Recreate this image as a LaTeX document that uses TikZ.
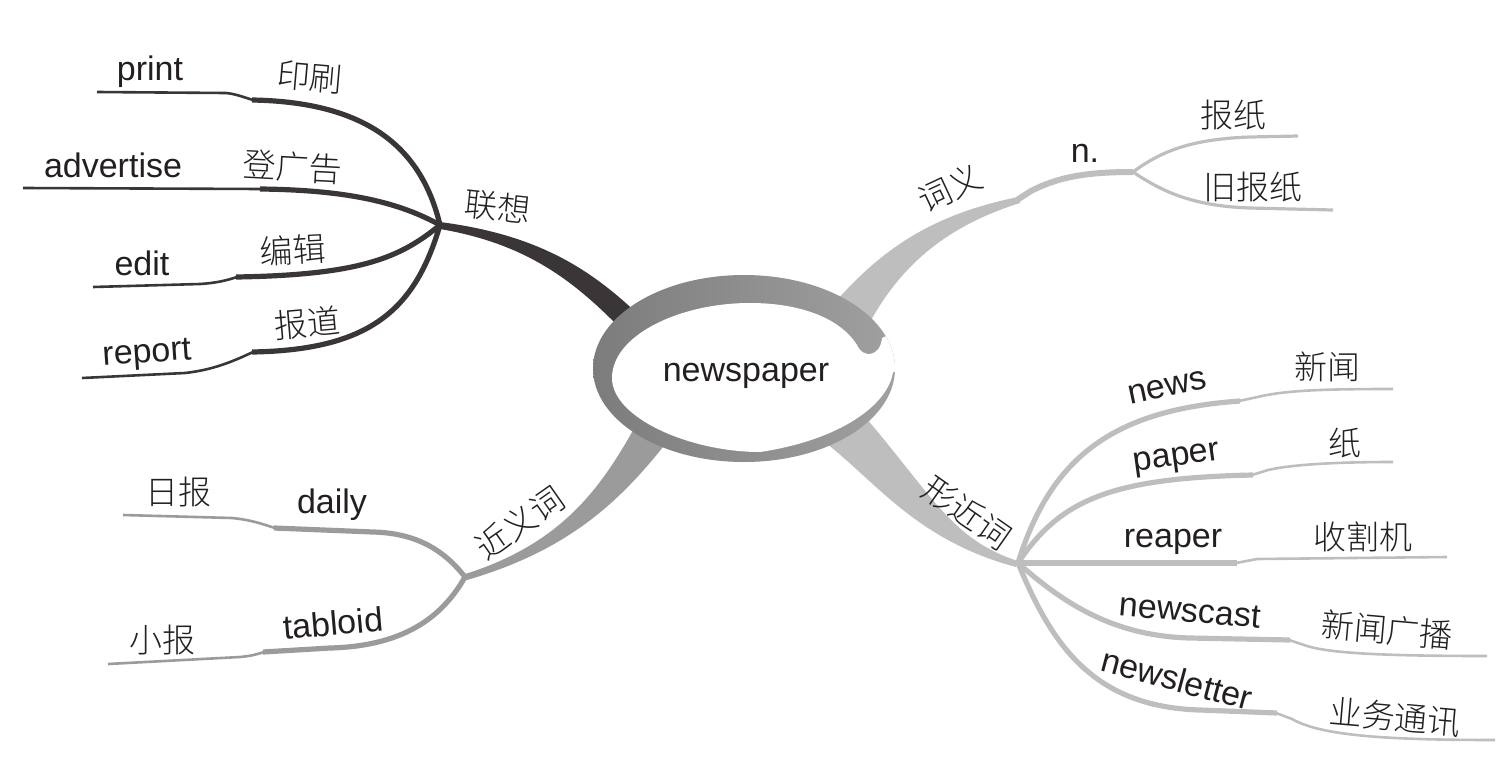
\documentclass[tikz,border=0pt]{standalone}
\usepackage{fontspec}
\setmainfont{Liberation Sans}
\newfontfamily\cjk{Noto Sans CJK SC}[UprightFont={* Light}]
\definecolor{dk}{RGB}{58,53,54}
\definecolor{lt}{RGB}{190,190,190}
\definecolor{md}{RGB}{155,155,155}
\definecolor{rg}{RGB}{124,124,124}
\definecolor{rgl}{RGB}{160,160,160}
\definecolor{txt}{RGB}{35,31,32}
\begin{document}
\begin{tikzpicture}[x=0.5pt,y=-0.5pt,
  en/.style={font=\fontsize{17}{20}\selectfont, text=txt, inner sep=0pt},
  zh/.style={font=\fontsize{16.5}{20}\selectfont\cjk, text=txt, inner sep=0pt},
  thk/.style={line width=2.6pt, line cap=butt, line join=round},
  thn/.style={line width=1.3pt, line cap=butt, line join=round},
  twig/.style={line width=1.6pt, line cap=butt, line join=round}]
\useasboundingbox (0,0) rectangle (1505,777);

% hubs and free ends
\coordinate (hubA) at (440,225);
\coordinate (hubB) at (1133,172);
\coordinate (hubC) at (1018,563);
\coordinate (hubD) at (465,577);
\coordinate (pE) at (97,92);
\coordinate (aE) at (23,188);
\coordinate (eE) at (93,287);
\coordinate (rE) at (82,378);
\coordinate (bzE) at (1298,136);
\coordinate (jbE) at (1333,210);
\coordinate (nwE) at (1393,389);
\coordinate (ppE) at (1393,462);
\coordinate (rpE) at (1447,557);
\coordinate (ncE) at (1487,656);
\coordinate (nlE) at (1495,740);
\coordinate (dE) at (123,515);
\coordinate (tE) at (108,664);

% trunks
\fill[dk] (642,318) .. controls (592,270) and (540,235) .. (440,222) -- (440,229) .. controls (528,244) and (575,282) .. (622,330) -- cycle;
\fill[lt] (830,308) .. controls (880,250) and (930,215) .. (1018,197) -- (1020,203) .. controls (950,225) and (903,262) .. (870,322) -- cycle;
\fill[lt] (822,440) .. controls (875,480) and (915,540) .. (1016,567) -- (1018,561) .. controls (952,540) and (932,495) .. (866,418) -- cycle;
\fill[md] (636,425) .. controls (600,490) and (560,545) .. (462,575) -- (467,580) .. controls (570,550) and (622,500) .. (670,438) -- cycle;

% 联想 leaves
\draw[dk,thk] (hubA) .. controls (422,150) and (370,102) .. (252,100);
\draw[dk,thn] (253,100) .. controls (243,97) and (236,94) .. (226,93) -- (pE);
\draw[dk,thk] (hubA) .. controls (400,203) and (350,190) .. (260,189);
\draw[dk,thn] (262,189) -- (aE);
\draw[dk,thk] (hubA) .. controls (400,258) and (360,275) .. (236,277);
\draw[dk,thn] (237,277) .. controls (225,281) and (215,283) .. (200,284) -- (eE);
\draw[dk,thk] (hubA) .. controls (415,310) and (370,350) .. (252,352);
\draw[dk,thn] (253,352) .. controls (232,362) and (212,370) .. (185,373) -- (rE);

% 词义 leaves
\draw[lt,line width=3pt] (1017,200) -- (1031,191) .. controls (1060,176) and (1090,172) .. (hubB);
\draw[lt,twig] (hubB) .. controls (1160,152) and (1190,139) .. (1250,137) -- (bzE);
\draw[lt,twig] (hubB) .. controls (1160,190) and (1190,206) .. (1250,208) -- (jbE);

% 形近词 leaves
\draw[lt,thk] (hubC) .. controls (1050,460) and (1110,410) .. (1240,401);
\draw[lt,thn] (1239,401) -- (1262,396) .. controls (1290,390) and (1330,389) .. (nwE);
\draw[lt,thk] (hubC) .. controls (1060,500) and (1110,478) .. (1253,475);
\draw[lt,thn] (1252,475) -- (1268,470) .. controls (1290,465) and (1330,462) .. (ppE);
\draw[lt,thk] (hubC) -- (1237,563);
\draw[lt,thn] (1236,563) -- (1257,559) -- (rpE);
\draw[lt,thk] (hubC) .. controls (1060,600) and (1110,636) .. (1190,638) -- (1290,640);
\draw[lt,thn] (1289,640) -- (1307,646) .. controls (1330,653) and (1380,656) .. (ncE);
\draw[lt,thk] (hubC) .. controls (1050,640) and (1090,707) .. (1200,710) -- (1277,713);
\draw[lt,thn] (1276,713) -- (1292,719) .. controls (1320,735) and (1380,740) .. (nlE);

% 近义词 leaves
\draw[md,thk] (hubD) .. controls (440,545) and (410,533) .. (373,532) -- (274,528);
\draw[md,thn] (275,528) .. controls (262,524) and (252,520) .. (232,518) -- (dE);
\draw[md,thk] (hubD) .. controls (445,612) and (410,646) .. (330,648) -- (263,652);
\draw[md,thn] (264,652) .. controls (255,655) and (250,656) .. (240,657) -- (tE);

% central ring
\begin{scope}
\path[left color=rg, right color=rgl] (744,368.5) ellipse [x radius=151, y radius=93.5];
\clip (744,368.5) ellipse [x radius=151, y radius=93.5];
\fill[white] (612,378) .. controls (612,335) and (680,303) .. (750,303)
  .. controls (800,303) and (840,318) .. (857,345)
  .. controls (862,358) and (880,358) .. (882,338)
  -- (910,325) -- (910,372) -- (893,372)
  .. controls (888,405) and (840,440) .. (760,452)
  .. controls (690,452) and (612,418) .. (612,378) -- cycle;
\end{scope}
\node[en] (center) at (746,376) {newspaper};

% labels
\node[zh, rotate=-6] (lx) at (498,207) {联想};
\node[en] (print) at (150,72) {print};
\node[zh, rotate=-5] (yinshua) at (310,77) {印刷};
\node[en] (adv) at (113,165) {advertise};
\node[zh, rotate=-3] (dgg) at (293,167) {登广告};
\node[en] (edit) at (142,263) {edit};
\node[zh, rotate=3] (bj) at (293,250) {编辑};
\node[en, rotate=4] (report) at (147,355) {report};
\node[zh, rotate=5] (bd) at (307,323) {报道};

\node[zh, rotate=25] (cy) at (950,188) {词义};
\node[en] (n) at (1085,153) {n.};
\node[zh] (bz) at (1233,115) {报纸};
\node[zh] (jbz) at (1253,187) {旧报纸};

\node[zh, rotate=-35] (xjc) at (967,513) {形近词};
\node[en, rotate=12] (news) at (1167,387) {news};
\node[zh] (xw) at (1327,367) {新闻};
\node[en, rotate=8] (paper) at (1177,460) {paper};
\node[zh] (zhi) at (1345,443) {纸};
\node[en] (reaper) at (1173,542) {reaper};
\node[zh] (sgj) at (1363,537) {收割机};
\node[en, rotate=-5] (newscast) at (1190,611) {newscast};
\node[zh, rotate=-5] (xwgb) at (1387,630) {新闻广播};
\node[en, rotate=-15] (newsletter) at (1177,679) {newsletter};
\node[zh, rotate=-5] (ywtx) at (1395,717) {业务通讯};

\node[zh, rotate=35] (jyc) at (520,523) {近义词};
\node[en] (daily) at (332,505) {daily};
\node[zh] (rb) at (178,492) {日报};
\node[en, rotate=5] (tabloid) at (333,623) {tabloid};
\node[zh] (xb) at (162,640) {小报};
\end{tikzpicture}
\end{document}
